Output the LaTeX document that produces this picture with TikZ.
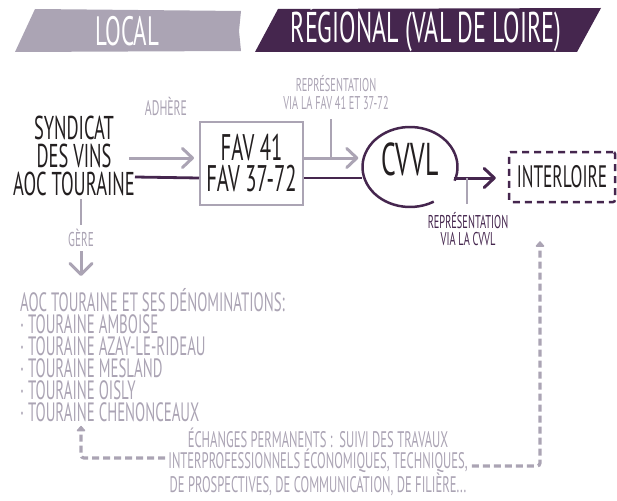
\documentclass[tikz,border=0pt]{standalone}
\usepackage{fontspec}
\setmainfont{PT Sans}[FakeStretch=0.56]
\usetikzlibrary{arrows.meta,positioning,shapes.geometric,calc}
\definecolor{lavgrey}{HTML}{ABA4B4}
\definecolor{plum}{HTML}{45264E}
\definecolor{ink}{HTML}{231F20}
\newcommand{\fsz}[2]{\fontsize{#1}{#2}\selectfont}
\tikzset{
  banner/.style={
    text=white,
    inner sep=0pt,
    font=\fsz{43}{43}
  },
  title/.style={
    text=ink,
    align=center,
    inner sep=0pt,
    font=\fsz{33}{28}
  },
  favbox/.style={
    rectangle,
    draw=lavgrey,
    line width=2pt,
    text=ink,
    align=center,
    minimum width=103pt,
    minimum height=83pt,
    inner sep=0pt,
    font=\fsz{37}{31}
  },
  cvvlnode/.style={
    ellipse,
    text=ink,
    minimum width=95pt,
    minimum height=80pt,
    inner sep=0pt,
    font=\fsz{46}{46}
  },
  dashbox/.style={
    rectangle,
    rounded corners=2pt,
    draw=plum,
    line width=2.5pt,
    dash pattern=on 7pt off 5pt,
    text=ink,
    minimum width=106pt,
    minimum height=50pt,
    inner sep=0pt,
    font=\fsz{31}{31}
  },
  greylbl/.style={
    text=lavgrey,
    align=center,
    inner sep=0pt,
    font=\fsz{21}{21}
  },
  smalllbl/.style={
    greylbl,
    font=\fsz{18.5}{18}
  },
  listlbl/.style={
    text=lavgrey,
    align=left,
    inner sep=0pt,
    font=\fsz{26.5}{22}
  },
  greyarrow/.style={
    -{Straight Barb[round,length=10pt,width=19pt]},
    line width=3pt,
    draw=lavgrey
  },
  darkarrow/.style={
    greyarrow,
    draw=plum
  },
  greyline/.style={
    line width=1.2pt,
    draw=lavgrey
  },
  darkline/.style={
    line width=2.8pt,
    draw=plum
  },
  ring/.style={
    line width=2.5pt,
    draw=plum
  },
  dasharrow/.style={
    -{Triangle[round,length=6pt,width=10pt]},
    line width=3.2pt,
    draw=lavgrey,
    dash pattern=on 7pt off 4pt,
    rounded corners=3pt
  }
}

\begin{document}
\begin{tikzpicture}[x=1pt,y=-1pt]
  \useasboundingbox (0,0) rectangle (617,500);

  % header bands
  \fill[lavgrey] (35,9) -- (241,11) -- (239,31) -- (241,51) -- (15,52) -- cycle;
  \fill[plum] (278,9) -- (601,8) -- (577,52) -- (255,52) -- cycle;
  \node[banner, font=\fsz{41}{41}] (local) at (127,31) {LOCAL};
  \node[banner] (regional) at (426,29) {RÉGIONAL (VAL DE LOIRE)};

  % main chain
  \node[title] (syndicat) at (74,156) {SYNDICAT\\DES VINS\\AOC TOURAINE};
  \node[favbox] (fav) at (251.5,163.5) {FAV 41\\FAV 37-72};
  \node[cvvlnode, text depth=16pt] (cvvl) at (410,167) {CVVL};
  \node[dashbox] (interloire) at (562,177) {INTERLOIRE};

  \node[greylbl] (adhere) at (166,106) {ADHÈRE};
  \node[smalllbl] (reprfav) at (336,93) {REPRÉSENTATION\\VIA LA FAV 41 ET 37-72};
  \node[smalllbl, text=plum, font=\fsz{18.5}{17}] (reprcvvl) at (468,229) {REPRÉSENTATION\\VIA LA CVVL};

  \draw[ring] (cvvl.center) ++(20:47.5 and 40) arc[start angle=20, end angle=-300, x radius=47.5, y radius=40];

  \draw[greyarrow, shorten >=5pt] ([yshift=5.5pt]fav.west -| syndicat.east) ++(-6,0) -- ([yshift=5.5pt]fav.west);
  \draw[darkline] ([yshift=-21pt]syndicat.east) -- ([yshift=-14.5pt]fav.west);
  \draw[greyarrow, shorten >=4pt] ([yshift=5.5pt]fav.east) -- ([yshift=5.5pt]fav.east -| cvvl.west);
  \draw[darkline] ([yshift=-14.5pt]fav.east) -- ([yshift=-14.5pt]fav.east -| cvvl.west);
  \draw[darkarrow, shorten >=12pt] ([xshift=-4pt,yshift=-11pt]cvvl.east) -- ([yshift=-11pt]cvvl.east -| interloire.west);

  \draw[greyline] ([xshift=-5pt,yshift=-9pt]reprfav.south) -- ([xshift=-5pt,yshift=5.5pt]reprfav.south |- fav.east);
  \draw[greyline] ([xshift=-1pt,yshift=8pt]reprcvvl.north) -- ([xshift=-1pt,yshift=-11pt]reprcvvl.north |- cvvl.east);

  % local side
  \node[greylbl, font=\fsz{20}{20}] (gere) at (81,238) {GÈRE};
  \node[listlbl, anchor=north west] (aoclist) at (20,288)
    {AOC TOURAINE ET SES DÉNOMINATIONS:\\
     ·\ TOURAINE AMBOISE\\
     ·\ TOURAINE AZAY-LE-RIDEAU\\
     ·\ TOURAINE MESLAND\\
     ·\ TOURAINE OISLY\\
     ·\ TOURAINE CHENONCEAUX};
  \draw[greyline, line width=2.5pt, shorten <=3pt, shorten >=4pt] ([xshift=7pt]syndicat.south) -- (gere.north);
  \draw[greyarrow, -{Straight Barb[round,length=11pt,width=22pt]}, shorten <=4pt, shorten >=12pt] (gere.south) -- (gere.south |- aoclist.north);

  % exchanges
  \node[greylbl, font=\fsz{22.5}{21}] (echanges) at (318,462)
    {ÉCHANGES PERMANENTS :\ \ SUIVI DES TRAVAUX\\
     INTERPROFESSIONNELS ÉCONOMIQUES, TECHNIQUES,\\
     DE PROSPECTIVES, DE COMMUNICATION, DE FILIÈRE...};
  \draw[dasharrow, shorten >=4pt] ([xshift=-3pt,yshift=4pt]echanges.west) -| (gere.south |- aoclist.south);
  \draw[dasharrow, shorten >=38pt] ([xshift=4pt,yshift=-4pt]echanges.east) -| ([xshift=-22pt]interloire.south);
\end{tikzpicture}
\end{document}
